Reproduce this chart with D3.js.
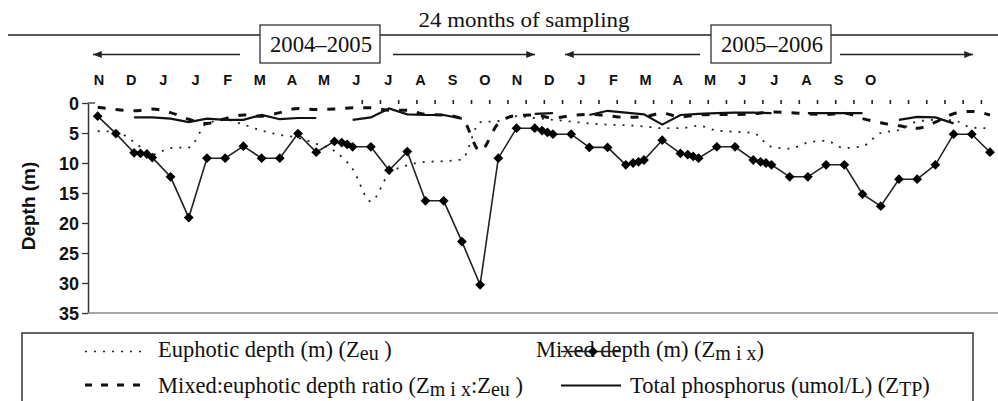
<!DOCTYPE html>
<html><head><meta charset="utf-8">
<script src="https://cdn.jsdelivr.net/npm/d3@7/dist/d3.min.js"></script>
<style>
body{margin:0;background:#fff}
.serif{font-family:"Liberation Serif","Tinos","Times New Roman","DejaVu Serif","Noto Serif",serif;}
.sans{font-family:"Liberation Sans",Arial,Helvetica,sans-serif;}
</style>
</head><body>
<svg id="c" width="998" height="401" xmlns="http://www.w3.org/2000/svg"></svg>
<script>
// ---------- data ----------
const monthLabels = ["N","D","J","J","F","M","A","M","J","J","A","S","O","N","D","J","F","M","A","M","J","J","A","S","O"];
const yTicks = [0,5,10,15,20,25,30,35];
// sampling index (50 samples over 24 months)
const sampleIdx = d3.range(50);
// Euphotic depth (m)
const euphotic = [4.7,4.8,6.5,8.6,7.5,7.4,3.4,2.8,3.6,4.6,5.3,5.8,6.8,8.0,11.0,16.4,11.8,10.4,9.8,9.7,
                  9.4,3.2,3.0,2.2,2.5,2.8,3.1,3.4,3.6,3.7,3.9,4.2,4.2,3.8,4.6,4.8,5.0,7.3,7.6,6.6,
                  6.3,7.5,7.2,5.0,4.5,3.1,2.8,2.9,4.1,4.2];
// Mixed:euphotic depth ratio
const ratio = [0.7,1.1,1.3,1.0,1.6,2.7,3.4,2.6,2.0,2.2,1.6,0.9,1.1,1.0,0.8,0.8,1.2,1.2,1.9,2.0,
               2.6,8.0,3.4,2.1,2.0,2.5,2.1,1.9,2.1,2.4,2.3,1.7,2.3,2.0,1.9,1.9,1.8,1.5,1.6,1.8,
               1.9,1.7,2.6,3.3,3.8,4.2,3.2,1.8,1.4,2.0];
// Total phosphorus (umol/L), null = not sampled
const totalP = [null,null,2.4,2.4,2.6,3.2,2.6,2.8,2.8,2.0,2.7,2.5,2.5,null,2.8,2.4,0.9,1.9,2.0,2.0,
                2.6,null,null,null,1.8,1.7,null,2.0,1.3,1.6,1.9,3.6,2.0,1.8,1.7,1.6,1.6,1.7,null,1.7,
                1.7,1.7,1.7,null,2.8,2.3,2.4,3.4,null,null];
// Mixed depth (m) – sample positions (some samples closely spaced) and values
const mixX = [0,1,2,2.35,2.7,3,4,5,6,7,8,9,10,11,12,13,13.4,13.7,14,15,16,17,18,19,20,21,22,23,24,24.4,24.7,25,26,27,28,
              29,29.4,29.7,30,31,32,32.4,32.7,33,34,35,36,36.4,36.7,37,38,39,40,41,42,43,44,45,46,47,48,49];
const mixDepth = [2.2,5.1,8.3,8.4,8.5,9.1,12.3,19.1,9.2,9.2,7.2,9.2,9.2,5.1,8.2,6.4,6.6,6.9,7.3,7.3,11.2,8.1,16.3,16.3,23.1,30.3,9.2,4.2,4.2,4.6,4.9,5.2,5.2,7.4,7.4,
                  10.3,10.0,9.8,9.5,6.2,8.4,8.6,8.9,9.2,7.3,7.3,9.5,9.8,10.0,10.3,12.3,12.3,10.3,10.3,15.2,17.2,12.7,12.7,10.3,5.2,5.2,8.2];
const periodLabels = ["2004–2005","2005–2006"];

// ---------- layout ----------
const svg = d3.select("#c");
const x = d3.scaleLinear().domain([0,49]).range([97.7,990]);
const y = d3.scaleLinear().domain([0,35]).range([103,313]);
const xm = d3.scalePoint().domain(d3.range(monthLabels.length)).range([99,870.7]);

const defs = svg.append("defs");
defs.append("marker").attr("id","ah").attr("viewBox","0 0 10 8").attr("refX",10).attr("refY",4)
  .attr("markerWidth",10).attr("markerHeight",7).attr("markerUnits","userSpaceOnUse").attr("orient","auto")
  .append("path").attr("d","M0,0L10,4L0,8Z").attr("fill","#222");

// top header
svg.append("line").attr("x1",8).attr("x2",998).attr("y1",35).attr("y2",35).attr("stroke","#222").attr("stroke-width",1.3);
svg.append("text").attr("class","serif").attr("x",524).attr("y",27).attr("text-anchor","middle")
  .attr("font-size",21).attr("textLength",211).attr("lengthAdjust","spacingAndGlyphs")
  .attr("fill","#111").text("24 months of sampling");
const boxes = [{x0:260,x1:380},{x0:711,x1:831}];
boxes.forEach((b,i)=>{
  svg.append("rect").attr("x",b.x0).attr("y",25).attr("width",b.x1-b.x0).attr("height",38)
    .attr("fill","#fff").attr("stroke","#222").attr("stroke-width",1.2);
  svg.append("text").attr("class","serif").attr("x",(b.x0+b.x1)/2+1).attr("y",52).attr("text-anchor","middle")
    .attr("font-size",23).attr("textLength",102).attr("lengthAdjust","spacingAndGlyphs")
    .attr("fill","#111").text(periodLabels[i]);
});
const arrows = [[240,93],[393,535],[700,565],[840,973]];
arrows.forEach(a=>{
  svg.append("line").attr("x1",a[0]).attr("x2",a[1]).attr("y1",54.5).attr("y2",54.5)
    .attr("stroke","#222").attr("stroke-width",1.3).attr("marker-end","url(#ah)");
});

// month labels
svg.append("g").attr("class","sans").selectAll("text").data(monthLabels).join("text")
  .attr("x",(d,i)=>xm(i)).attr("y",85).attr("text-anchor","middle")
  .attr("font-weight","bold").attr("font-size",14.5).attr("fill","#111").text(d=>d);

// y axis
const yAxis = svg.append("g").attr("transform","translate(88,0)")
  .call(d3.axisLeft(y).tickValues(yTicks).tickSize(6).tickSizeOuter(0).tickPadding(3));
yAxis.attr("font-family",null);
yAxis.select(".domain").attr("stroke","#333").attr("stroke-width",1.5);
yAxis.selectAll(".tick line").attr("stroke","#333").attr("stroke-width",1.3);
yAxis.selectAll(".tick text").attr("class","sans").attr("font-weight","bold").attr("font-size",18).attr("fill","#111").attr("dy","0.36em");
svg.append("line").attr("x1",88).attr("x2",95).attr("y1",y(0)).attr("y2",y(0)).attr("stroke","#333").attr("stroke-width",1.3);
svg.append("text").attr("class","sans").attr("transform",`translate(35,206) rotate(-90)`).attr("text-anchor","middle")
  .attr("font-weight","bold").attr("font-size",19).attr("fill","#111").text("Depth (m)");

// bottom line
svg.append("line").attr("x1",88).attr("x2",998).attr("y1",313).attr("y2",313).attr("stroke","#8a8a8a").attr("stroke-width",1.5);

// top category ticks
const topAx = svg.append("g").attr("transform","translate(0,104)")
  .call(d3.axisTop(x).tickValues(d3.range(14.5,50,1)).tickSize(4).tickFormat(""));
topAx.select(".domain").remove();
topAx.selectAll(".tick line").attr("stroke","#222").attr("stroke-width",1.6);

// series
const eLine = d3.line().x((d,i)=>x(sampleIdx[i])).y(d=>y(d)).curve(d3.curveMonotoneX);
svg.append("path").attr("d",eLine(euphotic)).attr("fill","none").attr("stroke","#222")
  .attr("stroke-width",1.8).attr("stroke-dasharray","2,7");

svg.append("path").attr("d",eLine(ratio)).attr("fill","none").attr("stroke","#111")
  .attr("stroke-width",3).attr("stroke-dasharray","8,10");

const pLine = d3.line().defined(d=>d!==null).x((d,i)=>x(sampleIdx[i])).y(d=>y(d));
svg.append("path").attr("d",pLine(totalP)).attr("fill","none").attr("stroke","#111").attr("stroke-width",2.2);

const mixPts = mixX.map((v,i)=>({x:v,d:mixDepth[i]}));
svg.append("path").attr("d",d3.line().x(p=>x(p.x)).y(p=>y(p.d))(mixPts))
  .attr("fill","none").attr("stroke","#222").attr("stroke-width",1.6);
const diamond = d3.symbol().type(d3.symbolSquare).size(48);
svg.append("g").selectAll("path").data(mixPts).join("path")
  .attr("d",diamond).attr("transform",p=>`translate(${x(p.x)},${y(p.d)}) rotate(45)`).attr("fill","#000");

// legend
svg.append("rect").attr("x",22).attr("y",333).attr("width",951).attr("height",110)
  .attr("fill","none").attr("stroke","#333").attr("stroke-width",1.5);
const lg = svg.append("g").attr("class","serif").attr("fill","#111");
// Euphotic
lg.append("line").attr("x1",85).attr("x2",143).attr("y1",351.5).attr("y2",351.5)
  .attr("stroke","#222").attr("stroke-width",1.5).attr("stroke-dasharray","2,7");
const t1 = lg.append("text").attr("x",158).attr("y",357).attr("font-size",22.5);
t1.append("tspan").text("Euphotic depth (m) (Z");
t1.append("tspan").attr("dy",3).attr("font-size",20).text("eu");
t1.append("tspan").attr("dy",-3).text(" )");
// Ratio
lg.append("line").attr("x1",85).attr("x2",145).attr("y1",385).attr("y2",385)
  .attr("stroke","#111").attr("stroke-width",3).attr("stroke-dasharray","7,9");
const t2 = lg.append("text").attr("x",158).attr("y",393).attr("font-size",22.5);
t2.append("tspan").text("Mixed:euphotic depth ratio (Z");
t2.append("tspan").attr("dy",2.5).attr("font-size",20).text("m i x");
t2.append("tspan").attr("dy",-2.5).text(":Z");
t2.append("tspan").attr("dy",2.5).attr("font-size",20).text("eu");
t2.append("tspan").attr("dy",-2.5).text(" )");
// Mixed depth
const t3 = lg.append("text").attr("x",536).attr("y",357).attr("font-size",22.5);
t3.append("tspan").text("Mixed depth (m) (Z");
t3.append("tspan").attr("dy",3).attr("font-size",20).text("m i x");
t3.append("tspan").attr("dy",-3).text(")");
lg.append("line").attr("x1",561).attr("x2",621).attr("y1",351.5).attr("y2",351.5).attr("stroke","#222").attr("stroke-width",1.6);
lg.append("path").attr("d",diamond).attr("transform","translate(593,351.5) rotate(45)").attr("fill","#000");
// TP
lg.append("line").attr("x1",561).attr("x2",621).attr("y1",385.5).attr("y2",385.5).attr("stroke","#111").attr("stroke-width",2.2);
const t4 = lg.append("text").attr("x",630).attr("y",393).attr("font-size",22.5);
t4.append("tspan").text("Total phosphorus (umol/L) (Z");
t4.append("tspan").attr("dy",2.5).attr("font-size",20).text("TP");
t4.append("tspan").attr("dy",-2.5).text(")");
</script>
</body></html>
